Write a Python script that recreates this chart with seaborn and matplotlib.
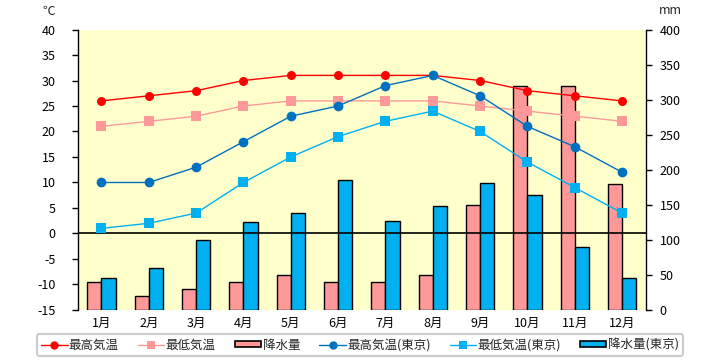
import numpy as np
import pandas as pd
import matplotlib
matplotlib.use("Agg")
import matplotlib.pyplot as plt
import seaborn as sns
from matplotlib.lines import Line2D
from matplotlib.patches import Patch

months = ["1月", "2月", "3月", "4月", "5月", "6月", "7月", "8月", "9月", "10月", "11月", "12月"]
max_temp = [26, 27, 28, 30, 31, 31, 31, 31, 30, 28, 27, 26]
min_temp = [21, 22, 23, 25, 26, 26, 26, 26, 25, 24, 23, 22]
precip = [40, 20, 30, 40, 50, 40, 40, 50, 150, 320, 320, 180]
tokyo_max = [10, 10, 13, 18, 23, 25, 29, 31, 27, 21, 17, 12]
tokyo_min = [1, 2, 4, 10, 15, 19, 22, 24, 20, 14, 9, 4]
tokyo_precip = [45, 60, 100, 125, 138, 185, 127, 148, 181, 164, 90, 45]

temp_ticks = list(range(-15, 41, 5))
precip_ticks = list(range(0, 401, 50))

sns.set_style("white")
plt.rcParams['font.family'] = ['Noto Sans CJK JP', 'DejaVu Sans']
plt.rcParams['axes.unicode_minus'] = False

fig = plt.figure(figsize=(7.2, 3.6), dpi=100)
ax = fig.add_axes([0.108, 0.139, 0.789, 0.779])
ax.set_facecolor('#FFFFCC')

df = pd.DataFrame({
    'month': months * 2,
    'series': ['降水量'] * 12 + ['降水量(東京)'] * 12,
    'value': precip + tokyo_precip,
})
sns.barplot(data=df, x='month', y='value', hue='series', order=months,
            palette={'降水量': '#FF9999', '降水量(東京)': '#00B0F0'},
            width=0.6, gap=0, edgecolor='black', linewidth=1, saturation=1,
            errorbar=None, legend=False, ax=ax)

ax2 = ax.twinx()
ax.yaxis.tick_right()
ax.yaxis.set_label_position('right')
ax2.yaxis.tick_left()
ax2.yaxis.set_label_position('left')

ax2.axhline(0, color='black', linewidth=1.2, zorder=1)
x = np.arange(len(months))
sns.lineplot(x=x, y=max_temp, color='#FF0000', marker='o', markersize=6.5,
             markeredgewidth=0, linewidth=1.0, ax=ax2, zorder=3)
sns.lineplot(x=x, y=min_temp, color='#FF9999', marker='s', markersize=6.5,
             markeredgewidth=0, linewidth=1.0, ax=ax2, zorder=3)
sns.lineplot(x=x, y=tokyo_max, color='#0070C0', marker='o', markersize=7,
             markeredgewidth=0, linewidth=1.0, ax=ax2, zorder=3)
sns.lineplot(x=x, y=tokyo_min, color='#00B0F0', marker='s', markersize=6.5,
             markeredgewidth=0, linewidth=1.0, ax=ax2, zorder=3)

ax.set_xlim(-0.5, 11.5)
ax.set_ylim(0, 400)
ax.set_yticks(precip_ticks)
ax2.set_ylim(-15, 40)
ax2.set_yticks(temp_ticks)
for a in (ax, ax2):
    a.set_xlabel('')
    a.set_ylabel('')

for s in ['top', 'left', 'bottom']:
    ax.spines[s].set_visible(False)
ax.spines['right'].set_color('black')
ax.spines['right'].set_linewidth(1)
for s in ['top', 'right', 'bottom']:
    ax2.spines[s].set_visible(False)
ax2.spines['left'].set_color('black')
ax2.spines['left'].set_linewidth(1)

ax.tick_params(axis='y', right=True, left=False, direction='out', length=4,
               width=1, pad=6, labelsize=9, colors='black')
ax.tick_params(axis='x', bottom=False, length=0, pad=5, labelsize=9, colors='black')
ax2.tick_params(axis='y', left=True, right=False, direction='out', length=4,
                width=1, pad=12, labelsize=9, colors='black')
ax.grid(False)
ax2.grid(False)

fig.text(48.7 / 720, 1 - 11 / 360, '℃', ha='center', va='center', fontsize=9)
fig.text(670 / 720, 1 - 10 / 360, 'mm', ha='center', va='center', fontsize=9)

handles = [
    Line2D([0], [0], color='#FF0000', marker='o', markersize=6, markeredgewidth=0, lw=1.0),
    Line2D([0], [0], color='#FF9999', marker='s', markersize=6, markeredgewidth=0, lw=1.0),
    Patch(facecolor='#FF9999', edgecolor='black', linewidth=1.2),
    Line2D([0], [0], color='#0070C0', marker='o', markersize=6, markeredgewidth=0, lw=1.0),
    Line2D([0], [0], color='#00B0F0', marker='s', markersize=6, markeredgewidth=0, lw=1.0),
    Patch(facecolor='#00B0F0', edgecolor='black', linewidth=1.2),
]
labels = ['最高気温', '最低気温', '降水量', '最高気温(東京)', '最低気温(東京)', '降水量(東京)']
leg = fig.legend(handles, labels, loc='center', bbox_to_anchor=(0.5, 0.0417), ncol=6,
                 frameon=True, fancybox=True, fontsize=9, handlelength=2.1,
                 handleheight=0.45, handletextpad=0.1, columnspacing=1.55, borderpad=0.35)
leg.get_frame().set_edgecolor('#C0C0C0')
leg.get_frame().set_linewidth(1.5)

fig.savefig('out.png', dpi=100)
